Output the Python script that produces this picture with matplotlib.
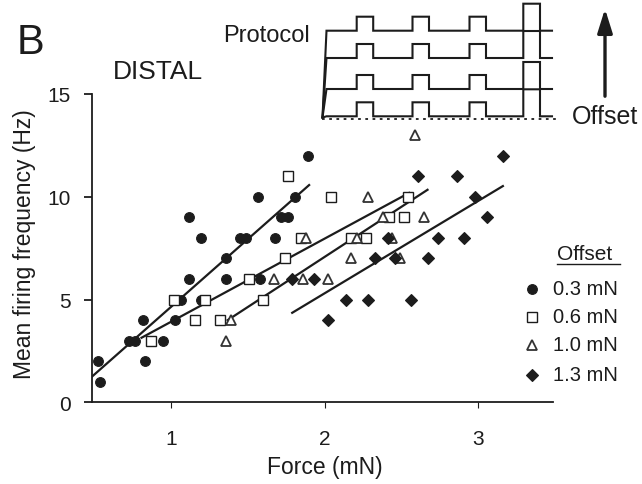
import numpy as np
import matplotlib
matplotlib.use("Agg")
import matplotlib.pyplot as plt

plt.rcParams['font.family'] = ['Liberation Sans', 'DejaVu Sans']
INK = '#1c1c1c'

# data: force (mN) vs mean firing frequency (Hz)
x_03 = [0.53, 0.54, 0.73, 0.77, 0.82, 0.83, 0.95, 1.03, 1.07, 1.12, 1.12, 1.20,
        1.20, 1.36, 1.36, 1.45, 1.49, 1.57, 1.58, 1.68, 1.72, 1.76, 1.81, 1.89]
y_03 = [2, 1, 3, 3, 4, 2, 3, 4, 5, 9, 6, 8,
        5, 7, 6, 8, 8, 10, 6, 8, 9, 9, 10, 12]

x_06 = [0.87, 1.02, 1.16, 1.22, 1.32, 1.51, 1.60, 1.74, 1.76, 1.85, 2.04, 2.17,
        2.27, 2.42, 2.52, 2.54]
y_06 = [3, 5, 4, 5, 4, 6, 5, 7, 11, 8, 10, 8,
        8, 9, 9, 10]

x_10 = [1.36, 1.39, 1.67, 1.86, 1.88, 2.02, 2.17, 2.21, 2.28, 2.38, 2.44, 2.49,
        2.59, 2.65]
y_10 = [3, 4, 6, 6, 8, 6, 7, 8, 10, 9, 8, 7,
        13, 9]

x_13 = [1.79, 1.93, 2.02, 2.14, 2.28, 2.33, 2.41, 2.46, 2.56, 2.61, 2.67, 2.74,
        2.86, 2.91, 2.98, 3.06, 3.16]
y_13 = [6, 6, 4, 5, 5, 7, 8, 7, 5, 11, 7, 8,
        11, 8, 10, 9, 12]

# regression lines: slope, intercept, x range
fit_slope = [6.6, 4.05, 4.88, 4.5]
fit_icpt = [-1.97, -0.14, -2.69, -3.7]
fit_x0 = [0.48, 0.81, 1.37, 1.79]
fit_x1 = [1.90, 2.55, 2.67, 3.16]

labels = ['0.3 mN', '0.6 mN', '1.0 mN', '1.3 mN']

W, H = 642, 485
fig = plt.figure(figsize=(W / 100, H / 100), dpi=100)
ax = fig.add_axes([91.7 / W, (H - 403.3) / H, (553 - 91.7) / W, (403.3 - 95) / H])

styles = [
    dict(marker='o', ms=7, mfc=INK, mec=INK, mew=0.8),
    dict(marker='s', ms=6.5, mfc='white', mec=INK, mew=1.0),
    dict(marker='^', ms=6.5, mfc='white', mec='#333333', mew=1.3),
    dict(marker='D', ms=6.3, mfc=INK, mec=INK, mew=0.8),
]
series = [(x_03, y_03), (x_06, y_06), (x_10, y_10), (x_13, y_13)]

for i in range(4):
    xr = np.array([fit_x0[i], fit_x1[i]])
    ax.plot(xr, fit_slope[i] * xr + fit_icpt[i], color=INK, lw=1.6, zorder=2)
for (xs, ys), st in zip(series, styles):
    ax.plot(xs, ys, ls='none', zorder=3, **st)

ax.set_xlim(0.486, 3.486)
ax.set_ylim(0, 15)
ax.set_xticks([1, 2, 3])
ax.set_yticks([0, 5, 10, 15])
for s in ['top', 'right']:
    ax.spines[s].set_visible(False)
for s in ['left', 'bottom']:
    ax.spines[s].set_linewidth(1.3)
    ax.spines[s].set_color(INK)
ax.tick_params(axis='y', direction='out', length=6, width=1.3, pad=9,
               labelsize=15, colors=INK)
ax.tick_params(axis='x', direction='out', length=4, width=0.8, pad=15,
               labelsize=15, colors=INK)
ax.set_ylabel('Mean firing frequency (Hz)', fontsize=16.5, color=INK)
ax.yaxis.set_label_coords(-0.12, 0.517)
ax.set_xlabel('Force (mN)', fontsize=16.5, color=INK)
ax.xaxis.set_label_coords(0.506, -0.17)
ax.xaxis.label.set_va('top')

# overlay in pixel coordinates for panel letter, inset protocol and legend
ov = fig.add_axes([0, 0, 1, 1], facecolor='none')
ov.set_xlim(0, W)
ov.set_ylim(H, 0)
ov.axis('off')

ov.text(31, 43, 'B', fontsize=30, color=INK, ha='center', va='center')
ov.text(113, 72, 'DISTAL', fontsize=19, color=INK, ha='left', va='center')

# protocol schematic
base_levels = [31.7, 59, 90, 117.3]
pulse_on = [356.7, 412.5, 469.5]
pulse_w = 16.5
small_h = 14
for b in base_levels:
    px = [322.5, 326.5]
    py = [118.5, b]
    for p in pulse_on:
        px += [p, p, p + pulse_w, p + pulse_w]
        py += [b, b - small_h, b - small_h, b]
    px += [523.3, 523.3, 540, 540, 552]
    py += [b, b - 27, b - 27, b, b]
    ov.plot(px, py, color=INK, lw=1.5, solid_joinstyle='miter')
ov.plot([322, 556], [119.5, 119.5], color=INK, lw=1.3, ls=(0, (1.5, 2.5)))
ov.text(310, 36, 'Protocol', fontsize=17, color=INK, ha='right', va='center')
ov.text(572, 117, 'Offset', fontsize=18, color=INK, ha='left', va='center')
ov.annotate('', xy=(605, 7), xytext=(605, 100),
            arrowprops=dict(arrowstyle='-|>,head_width=0.25,head_length=0.8',
                            lw=2.4, color=INK, mutation_scale=18))

# legend
ov.text(557, 255, 'Offset', fontsize=15, color=INK, ha='left', va='center')
ov.plot([557, 620], [265, 265], color=INK, lw=1.0)
rows = [290, 318, 346, 376]
for yy, st, lab in zip(rows, styles, labels):
    ov.plot([532], [yy], ls='none', **st)
    ov.text(553, yy, lab, fontsize=14.5, color=INK, ha='left', va='center')

fig.savefig('out.png', dpi=100)
